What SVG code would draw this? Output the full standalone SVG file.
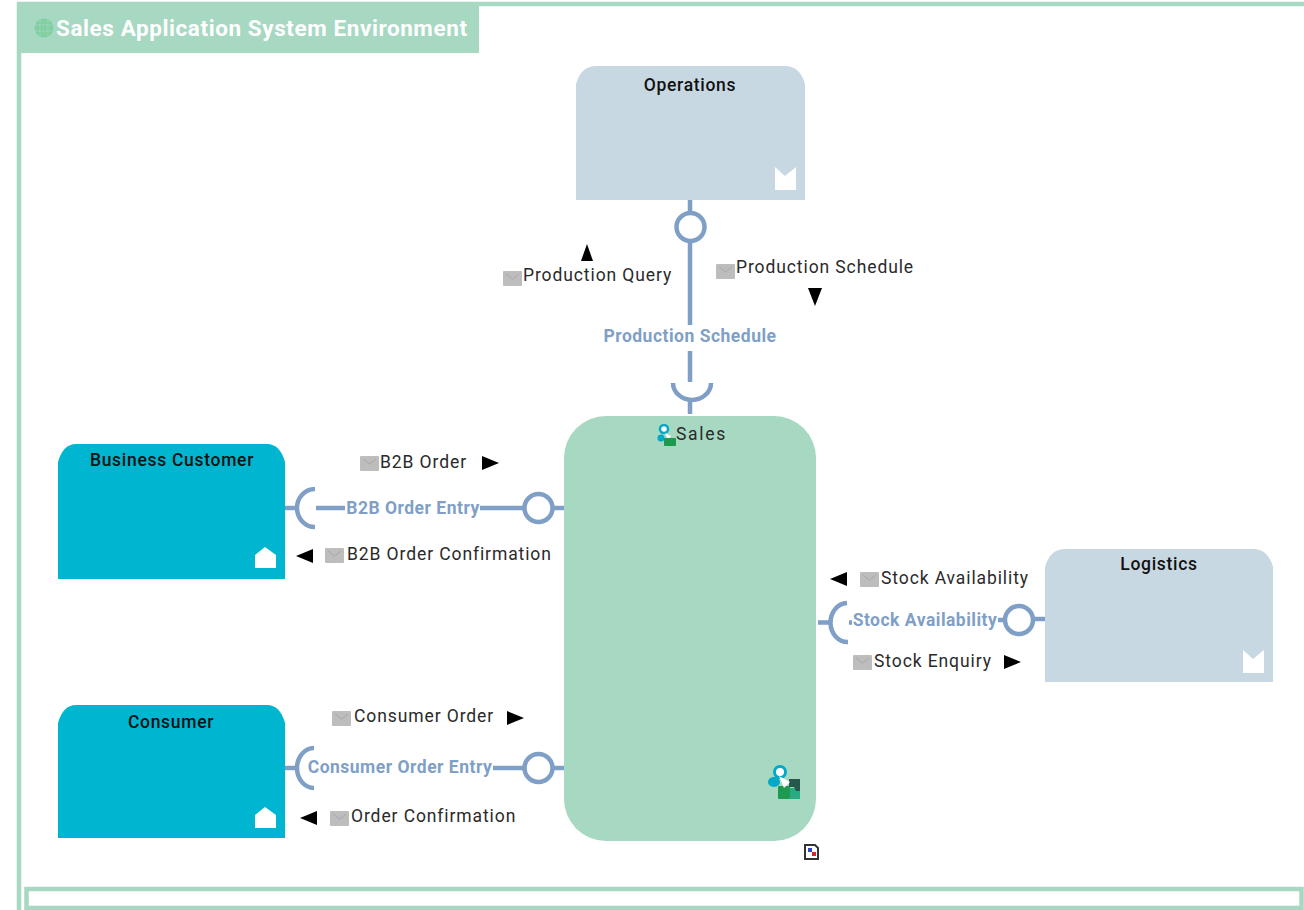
<svg xmlns="http://www.w3.org/2000/svg" width="1304" height="910" viewBox="0 0 1304 910">
<style>
text{font-family:Roboto,"Liberation Sans",sans-serif;font-size:17.5px;fill:#2a2a2a;letter-spacing:.9px}
.n{font-weight:500;text-anchor:middle;fill:#111;letter-spacing:.7px}
.if{font-weight:700;fill:#7f9fc6;text-anchor:middle;letter-spacing:.5px}
.c{fill:none;stroke:#7f9fc6;stroke-width:4.500}
.m{fill:#bdbdbd}
.f{fill:none;stroke:#a8a8a8;stroke-width:1}
.a{fill:#000}
.w{fill:#fff}
</style>
<defs>
<g id="msg"><rect width="19" height="15" rx="1" class="m"/><path class="f" d="M3 3L9.500 8L16 3"/></g>
<path id="house" class="w" d="M0 21V8L10 0L21 8V21Z"/>
<path id="cap" class="w" d="M0 0L10 9L21 0V23H0Z"/>
</defs>
<g id="frame">
<path d="M19 910V4H1304" fill="none" stroke="#a6d8c2" stroke-width="4.500"/>
<rect x="17" y="3" width="462" height="50" fill="#a6d8c2"/>
<circle cx="44" cy="28" r="9.500" fill="#82cfa2"/>
<path d="M35 25H53M35 31H53M40 20V36M48 20V36" stroke="#a6d8c2" stroke-width="1" stroke-dasharray="2 1.500"/>
<text x="56" y="36" style="font-size:22.500px;font-weight:700;fill:#fff;letter-spacing:0" textLength="411">Sales Application System Environment</text>
<rect x="26.500" y="889" width="1275" height="19" fill="none" stroke="#a6d8c2" stroke-width="4.500"/>
</g>
<g id="connectors">
<path class="c" d="M690 200V212M690 242V325M690 351V382M690 398V414"/>
<circle class="c" cx="690.500" cy="227" r="14"/>
<path class="c" d="M673 383A18 16 0 0 0 711 383"/>
<path class="c" d="M285 508H299M316 508H345M480 508H524M552 508H564"/>
<circle class="c" cx="538.500" cy="508" r="14"/>
<path class="c" d="M315 489A18 19 0 0 0 315 527"/>
<path class="c" d="M285 768H298M493 768H524M552 768H564"/>
<circle class="c" cx="538.500" cy="768" r="14"/>
<path class="c" d="M314 748A17 20 0 0 0 314 788"/>
<path class="c" d="M818 622.500H832M849 622.500H852M998 620H1005M1033 619H1045"/>
<circle class="c" cx="1019" cy="620" r="14"/>
<path class="c" d="M847 603A17 19.500 0 0 0 848 642"/>
</g>
<g id="operations">
<path d="M576 200V84Q581 66 596 66H785Q800 66 805 84V200Z" fill="#c8d8e2"/>
<text class="n" x="690" y="91">Operations</text>
<use href="#cap" x="775" y="167"/>
</g>
<g id="logistics">
<path d="M1045 682V567Q1050 549 1065 549H1253Q1268 549 1273 567V682Z" fill="#c8d8e2"/>
<text class="n" x="1159" y="570">Logistics</text>
<use href="#cap" x="1243" y="650"/>
</g>
<g id="business-customer">
<path d="M58 579V462Q63 444 76 444H267Q280 444 285 462V579Z" fill="#00b5cf"/>
<text class="n" x="172" y="466">Business Customer</text>
<use href="#house" x="255" y="547"/>
</g>
<g id="consumer">
<path d="M58 838V723Q63 705 76 705H267Q280 705 285 723V838Z" fill="#00b5cf"/>
<text class="n" x="171" y="728">Consumer</text>
<use href="#house" x="255" y="807"/>
</g>
<g id="sales">
<rect x="564" y="416" width="252" height="425" rx="42" fill="#a6d8c2"/>
<text x="676" y="440" style="letter-spacing:1.700px">Sales</text>
<g>
<circle cx="664" cy="429" r="4" fill="#fff" stroke="#00a9c6" stroke-width="2.500"/>
<circle cx="661" cy="438" r="3.500" fill="#00a9c6"/>
<path d="M665 433L671 436L668 440Z" fill="#fff"/>
<rect x="664" y="438" width="12" height="8" rx="1" fill="#1d9a50"/>
</g>
<g>
<circle cx="780" cy="772" r="5.500" fill="#fff" stroke="#00a9c6" stroke-width="3"/>
<ellipse cx="774" cy="782" rx="6" ry="5" fill="#00a9c6"/>
<rect x="778" y="786" width="12" height="13" rx="1" fill="#1d9a50"/>
<rect x="790" y="788" width="10" height="11" fill="#2aaa80"/>
<path d="M789 779H800V791H796L794 787H789Z" fill="#26584a"/>
<path d="M779 776L790 782L784 788Z" fill="#fff"/>
</g>
</g>
<g id="labels">
<text class="if" x="690" y="342">Production Schedule</text>
<text class="if" x="413" y="514">B2B Order Entry</text>
<text class="if" x="400" y="773">Consumer Order Entry</text>
<text class="if" x="925" y="626">Stock Availability</text>
<use href="#msg" x="503" y="271"/><text x="523" y="281">Production Query</text>
<path class="a" d="M581 261L587 244L593 261Z"/>
<use href="#msg" x="716" y="264"/><text x="736" y="273">Production Schedule</text>
<path class="a" d="M808 288H822L815 306Z"/>
<use href="#msg" x="360" y="456"/><text x="380" y="468">B2B Order</text>
<path class="a" d="M482 456L499 463L482 470Z"/>
<use href="#msg" x="325" y="548"/><text x="347" y="560">B2B Order Confirmation</text>
<path class="a" d="M313 549L296 556L313 563Z"/>
<use href="#msg" x="860" y="572"/><text x="881" y="584">Stock Availability</text>
<path class="a" d="M847 572L830 579L847 586Z"/>
<use href="#msg" x="853" y="655"/><text x="874" y="667">Stock Enquiry</text>
<path class="a" d="M1004 655L1021 662L1004 669Z"/>
<use href="#msg" x="332" y="711"/><text x="354" y="722">Consumer Order</text>
<path class="a" d="M507 711L524 718L507 725Z"/>
<use href="#msg" x="330" y="811"/><text x="351" y="822">Order Confirmation</text>
<path class="a" d="M317 811L300 818L317 825Z"/>
</g>
<g id="doc-icon">
<path d="M805 845H815L818 848V859H805Z" fill="#fff" stroke="#333" stroke-width="2"/>
<rect x="808" y="848" width="4" height="4" fill="#3344cc"/>
<rect x="812" y="852" width="4" height="4" fill="#dd2233"/>
</g>
</svg>
